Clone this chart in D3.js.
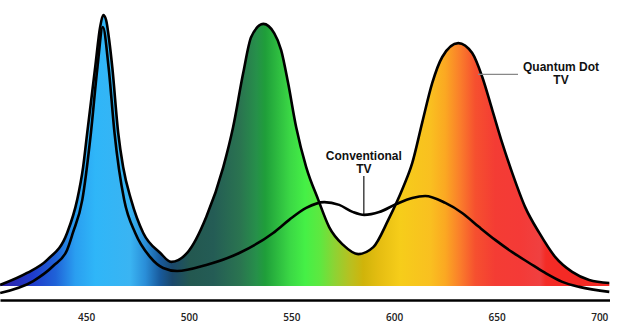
<!DOCTYPE html>
<html>
<head>
<meta charset="utf-8">
<script src="https://cdn.jsdelivr.net/npm/d3@7"></script>
<style>
  html, body { margin: 0; padding: 0; background: #fff; }
  svg { display: block; }
</style>
</head>
<body>
<svg id="chart" width="618" height="326"></svg>
<script>
// Wavelength (nm) and relative intensity
const qdWavelength = [408.1, 421.2, 431.0, 440.7, 445.6, 448.5, 450.5, 454.4, 456.8, 458.3, 459.7, 461.2, 462.7, 465.6, 468.0, 471.9, 477.8, 486.1, 491.4, 499.2, 508.5, 516.8, 521.6, 526.5, 530.4, 536.3, 541.6, 545.0, 548.4, 552.3, 557.2, 563.1, 568.4, 575.2, 582.6, 589.9, 597.2, 604.5, 608.9, 613.7, 618.6, 623.5, 631.3, 638.1, 643.0, 647.9, 652.7, 657.6, 663.9, 670.8, 678.6, 686.8, 695.1, 704.9];
const qdIntensity = [2.9, 7.2, 11.9, 21.6, 33.5, 45.3, 57.6, 81.3, 95.7, 100, 98.2, 91.0, 81.3, 57.6, 45.3, 33.5, 21.6, 14.4, 11.2, 14.4, 27.3, 45.3, 59.7, 79.1, 92.1, 96.8, 93.5, 87.4, 75.5, 59.7, 45.3, 33.5, 23.7, 17.3, 14.0, 16.5, 26.3, 38.1, 46.8, 61.2, 75.5, 84.9, 89.9, 86.3, 77.7, 65.8, 54.0, 43.2, 30.9, 21.6, 12.9, 7.6, 4.7, 3.6];

const convWavelength = [408.1, 424.2, 433.9, 440.7, 443.5, 448.1, 452.3, 455.5, 458.1, 460.9, 463.8, 468.5, 473.9, 481.2, 487.5, 494.3, 508.5, 524.6, 541.1, 548.9, 557.2, 566.0, 573.3, 580.1, 585.5, 592.8, 601.1, 608.9, 615.2, 625.0, 633.2, 641.5, 649.3, 657.6, 665.9, 673.7, 682.0, 690.3, 704.9];
const convIntensity = [0, 4.3, 9.7, 15.5, 21.6, 33.5, 57.6, 81.3, 95.7, 81.3, 57.6, 33.5, 21.6, 12.9, 9.0, 7.9, 10.1, 14.4, 21.6, 26.3, 30.6, 32.7, 31.7, 29.1, 28.1, 29.1, 32.0, 34.2, 34.9, 32.4, 28.8, 23.7, 19.1, 14.7, 10.8, 7.2, 4.0, 2.2, 0.4];

const tickValues = [450, 500, 550, 600, 650, 700];

// Spectrum colours along the wavelength axis
const spectrumWavelength = [408, 424, 435, 444.6, 454.4, 471.4, 478.8, 486.1, 491.9, 500.7, 512, 525, 533, 537.2, 549.4, 556.7, 564, 571.3, 578.7, 585, 593.3, 603, 617.6, 625, 632.3, 639.6, 649.3, 661.5, 671.2, 674, 678.6, 705];
const spectrumColor = ["#2d1fa6", "#1f3ccb", "#1f62d8", "#2a9ef0", "#2fb6f8", "#3ab4f2", "#2a8ed8", "#185a9c", "#1a486c", "#235850", "#245c55", "#2a7450", "#26904a", "#1f9e3a", "#3bd845", "#45f046", "#5ee840", "#8fd233", "#b8c020", "#d0b40a", "#e6be12", "#f6cd1a", "#f9c020", "#fba822", "#fa7d2b", "#f6502f", "#f43c34", "#f43a37", "#f04040", "#f42c26", "#f42a25", "#f42a25"];

const labelConventional = ["Conventional", "TV"];
const labelQD = ["Quantum Dot", "TV"];

const svg = d3.select("#chart");

const x = d3.scaleLinear().domain([408, 705]).range([0, 609.5]);
const y = d3.scaleLinear().domain([0, 100]).range([293, 15]);
const fillFloor = 286;

const qd = qdWavelength.map((w, i) => ({ w, v: qdIntensity[i] }));
const conv = convWavelength.map((w, i) => ({ w, v: convIntensity[i] }));

// gradient
const defs = svg.append("defs");
const grad = defs.append("linearGradient")
  .attr("id", "spectrum")
  .attr("gradientUnits", "userSpaceOnUse")
  .attr("x1", x(408)).attr("x2", x(705))
  .attr("y1", 0).attr("y2", 0);
const span = 705 - 408;
spectrumWavelength.forEach((w, i) => {
  grad.append("stop")
    .attr("offset", ((w - 408) / span * 100) + "%")
    .attr("stop-color", spectrumColor[i]);
});

const area = d3.area()
  .x(d => x(d.w))
  .y0(fillFloor)
  .y1(d => Math.min(y(d.v), fillFloor))
  .curve(d3.curveMonotoneX);

const line = d3.line()
  .x(d => x(d.w))
  .y(d => y(d.v))
  .curve(d3.curveMonotoneX);

svg.append("path")
  .datum(qd)
  .attr("d", area)
  .attr("fill", "url(#spectrum)");

svg.append("path")
  .datum(qd)
  .attr("d", line)
  .attr("fill", "none")
  .attr("stroke", "#000")
  .attr("stroke-width", 2.6)
  .attr("stroke-linejoin", "round");

svg.append("path")
  .datum(conv)
  .attr("d", line)
  .attr("fill", "none")
  .attr("stroke", "#000")
  .attr("stroke-width", 2.6)
  .attr("stroke-linejoin", "round");

// axis
const axis = svg.append("g")
  .attr("transform", "translate(0,300)")
  .call(d3.axisBottom(x).tickValues(tickValues).tickSize(0).tickSizeOuter(0).tickPadding(13.6).tickFormat(d3.format("d")));
axis.select(".domain").attr("stroke", "#000").attr("stroke-width", 2.6);
axis.selectAll("text")
  .attr("font-family", "'Open Sans', sans-serif")
  .attr("font-size", 10)
  .attr("font-weight", 600)
  .attr("fill", "#222");

// annotations
const annFont = "'Liberation Sans', Arial, sans-serif";
const convX = x(585.3);
labelConventional.forEach((t, i) => {
  svg.append("text")
    .attr("x", convX).attr("y", 159.8 + i * 13.6)
    .attr("text-anchor", "middle")
    .attr("font-family", annFont).attr("font-size", 12).attr("font-weight", 700)
    .attr("fill", "#111")
    .text(t);
});
svg.append("line")
  .attr("x1", convX).attr("x2", convX)
  .attr("y1", 176).attr("y2", y(28.1))
  .attr("stroke", "#000").attr("stroke-width", 1.1);

const qdX = 561;
labelQD.forEach((t, i) => {
  svg.append("text")
    .attr("x", qdX).attr("y", 70.7 + i * 13.5)
    .attr("text-anchor", "middle")
    .attr("font-family", annFont).attr("font-size", 12).attr("font-weight", 700)
    .attr("fill", "#111")
    .text(t);
});
svg.append("line")
  .attr("x1", 478).attr("x2", 518)
  .attr("y1", 74.3).attr("y2", 74.3)
  .attr("stroke", "#888").attr("stroke-width", 1.3);
</script>
</body>
</html>
